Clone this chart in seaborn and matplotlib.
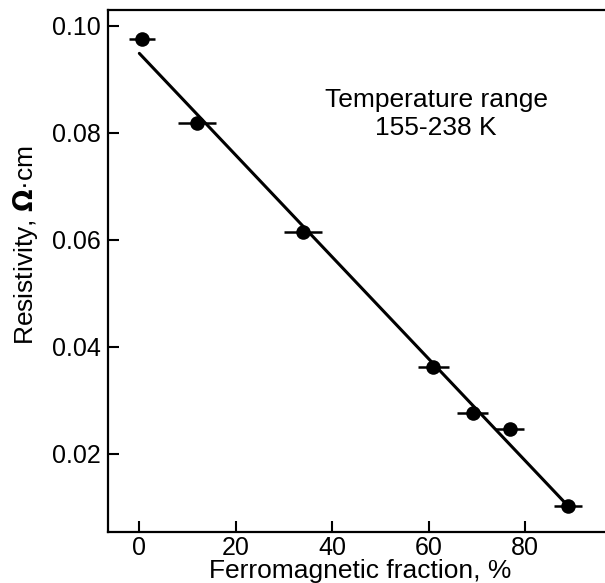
import numpy as np
import pandas as pd
import seaborn as sns
import matplotlib.pyplot as plt

# Data
fraction = [0.5, 12.0, 34.0, 61.0, 69.2, 76.8, 89.0]
resistivity = [0.0975, 0.0818, 0.0615, 0.0363, 0.0277, 0.0246, 0.0102]
fraction_err = [2.7, 4.0, 3.9, 3.2, 3.2, 3.0, 2.9]

# Linear fit line end points
fit_x = [0.0, 89.0]
fit_y = [0.0948, 0.0102]

df = pd.DataFrame({'fraction': fraction, 'resistivity': resistivity, 'err': fraction_err})
fit = pd.DataFrame({'x': fit_x, 'y': fit_y})

sns.set_style('ticks', rc={'axes.edgecolor': 'black', 'text.color': 'black',
                           'xtick.color': 'black', 'ytick.color': 'black',
                           'axes.labelcolor': 'black'})
plt.rcParams['font.family'] = ['Liberation Sans', 'DejaVu Sans']

fig = plt.figure(figsize=(6.05, 5.83), dpi=100)
ax = fig.add_axes([108 / 605, 51 / 583, 1 - 108 / 605, 522 / 583])

# Error bars
ax.errorbar(df['fraction'], df['resistivity'], xerr=df['err'], fmt='none',
            ecolor='black', elinewidth=1.8, capsize=0)

# Fit line
sns.lineplot(data=fit, x='x', y='y', color='black', linewidth=2.2, ax=ax)

# Points
sns.scatterplot(data=df, x='fraction', y='resistivity', color='black', s=110,
                edgecolor='black', linewidth=0, zorder=3, ax=ax)

ax.set_xlim(-6.5, 96.6)
ax.set_ylim(0.0054, 0.1029)
ax.set_xticks([0, 20, 40, 60, 80])
ax.set_yticks([0.02, 0.04, 0.06, 0.08, 0.10])
ax.set_yticklabels(['0.02', '0.04', '0.06', '0.08', '0.10'])

ax.spines['right'].set_visible(False)
for s in ['left', 'top', 'bottom']:
    ax.spines[s].set_linewidth(1.6)

ax.tick_params(direction='in', length=8, width=1.5, labelsize=18, pad=5)
ax.tick_params(axis='x', pad=3)

ax.set_xlabel('Ferromagnetic fraction, %', fontsize=19)
ax.set_ylabel('Resistivity, $\\mathbf{\\Omega}$·cm', fontsize=19)
ax.xaxis.set_label_coords(0.507, -0.052)
ax.yaxis.set_label_coords(-0.137, 0.55)

ax.text(0.66, 0.80, 'Temperature range\n155-238 K', transform=ax.transAxes,
        ha='center', va='center', fontsize=19, linespacing=1.2)

fig.savefig('out.png', dpi=100)
